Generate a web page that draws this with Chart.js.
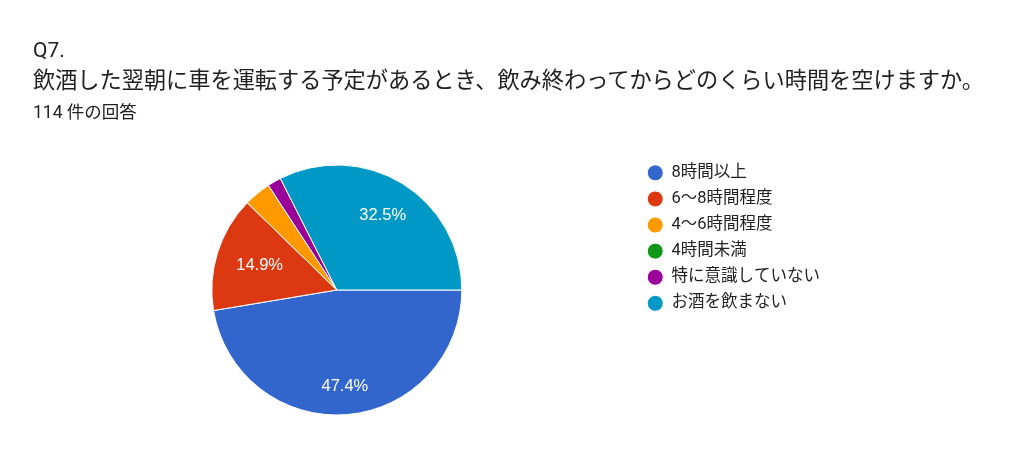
<!DOCTYPE html>
<html>
<head>
<meta charset="utf-8">
<script src="https://cdn.jsdelivr.net/npm/chart.js@4"></script>
<style>
  html, body { margin: 0; padding: 0; background: #fff; }
  body { width: 1024px; height: 464px; position: relative; overflow: hidden;
         font-family: Roboto, "Noto Sans CJK JP", sans-serif; color: #202124; }
  #wrap { position: absolute; left: 0; top: 0; width: 1024px; height: 464px; }
  .t { position: absolute; left: 33px; white-space: nowrap; }
  #q { top: 36px; font-size: 21px; line-height: 28px; }
  #title { top: 66px; font-size: 22.2px; line-height: 28px; }
  #count { top: 101px; font-size: 17.5px; line-height: 22px; }
</style>
</head>
<body>
<div id="wrap"><canvas id="c"></canvas></div>
<div class="t" id="q">Q7.</div>
<div class="t" id="title">飲酒した翌朝に車を運転する予定があるとき、飲み終わってからどのくらい時間を空けますか。</div>
<div class="t" id="count">114 件の回答</div>
<script>
const categories = ["8時間以上", "6〜8時間程度", "4〜6時間程度", "4時間未満", "特に意識していない", "お酒を飲まない"];
const counts = [54, 17, 4, 0, 2, 37];
const colors = ["#3366cc", "#dc3912", "#ff9900", "#109618", "#990099", "#0099c6"];

const sliceLabels = {
  id: 'sliceLabels',
  afterDatasetsDraw(chart) {
    const ctx = chart.ctx;
    const meta = chart.getDatasetMeta(0);
    const data = chart.data.datasets[0].data;
    const total = data.reduce((a, b) => a + b, 0);
    ctx.save();
    const fs = 16.5;
    ctx.font = fs + 'px "Liberation Sans", Arial, sans-serif';
    ctx.fillStyle = '#ffffff';
    ctx.textAlign = 'center';
    ctx.textBaseline = 'middle';
    meta.data.forEach((arc, i) => {
      const frac = data[i] / total;
      if (frac < 0.05) return;
      const txt = (frac * 100).toFixed(1) + '%';
      const mid = (arc.startAngle + arc.endAngle) / 2;
      const w = ctx.measureText(txt).width;
      const hw = w / 2, hh = fs * 0.36;
      const cx = Math.cos(mid), cy = Math.sin(mid);
      const ext = Math.abs(cx) * hw + Math.abs(cy) * hh;
      const d = arc.outerRadius * 0.84 - ext;
      ctx.fillText(txt, arc.x + cx * d, arc.y + cy * d);
    });
    ctx.restore();
  }
};

new Chart(document.getElementById('c'), {
  type: 'pie',
  data: {
    labels: categories,
    datasets: [{
      data: counts,
      backgroundColor: colors,
      borderColor: '#ffffff',
      borderWidth: 1,
      radius: 125
    }]
  },
  options: {
    responsive: true,
    maintainAspectRatio: false,
    animation: false,
    events: [],
    rotation: 90,
    layout: { padding: { top: 155, bottom: 39, left: 36, right: 194 } },
    plugins: {
      tooltip: { enabled: false },
      legend: {
        position: 'right',
        align: 'start',
        labels: {
          usePointStyle: true,
          pointStyle: 'circle',
          pointStyleWidth: 16,
          boxHeight: 11.3,
          padding: 9.6,
          color: '#222222',
          font: { size: 16.5, family: 'Roboto, "Noto Sans CJK JP", sans-serif' }
        }
      }
    }
  },
  plugins: [sliceLabels]
});
</script>
</body>
</html>
